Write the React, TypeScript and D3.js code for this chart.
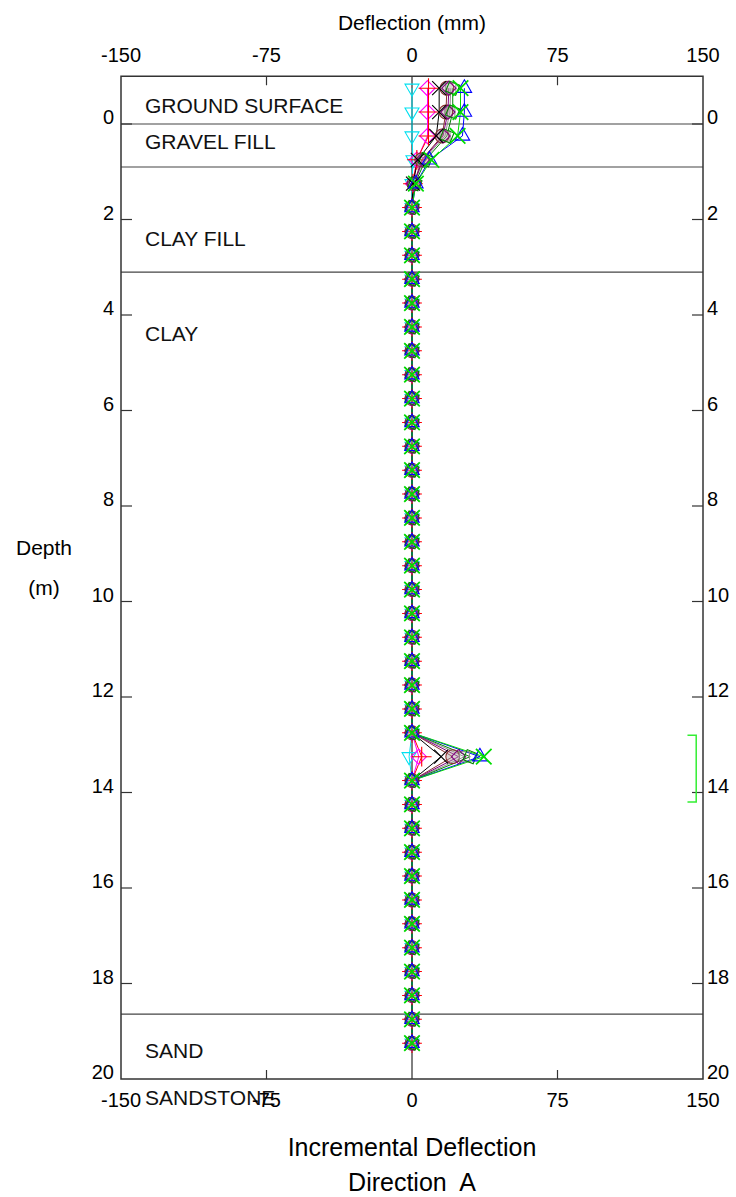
import React from "react";
import * as d3 from "d3";

// depths of the probe readings (m)
const depths = [-0.75, -0.25, 0.25, 0.75, 1.25, 1.75, 2.25, 2.75, 3.25, 3.75,
    4.25, 4.75, 5.25, 5.75, 6.25, 6.75, 7.25, 7.75, 8.25, 8.75,
    9.25, 9.75, 10.25, 10.75, 11.25, 11.75, 12.25, 12.75, 13.25, 13.75,
    14.25, 14.75, 15.25, 15.75, 16.25, 16.75, 17.25, 17.75, 18.25, 18.75,
    19.25];

// incremental deflection per reading (mm)
const cyanVals = [0, 0, 0, 0.5, 0, 0, 0, 0, 0, 0,
    0, 0, 0, 0, 0, 0, 0, 0, 0, 0,
    0, 0, 0, 0, 0, 0, 0, 0, -1.5, 0,
    0, 0, 0, 0, 0, 0, 0, 0, 0, 0,
    0];
const magentaVals = [8, 8, 8, 2.5, 0.5, 0, 0, 0, 0, 0,
    0, 0, 0, 0, 0, 0, 0, 0, 0, 0,
    0, 0, 0, 0, 0, 0, 0, 0, 3.5, 0,
    0, 0, 0, 0, 0, 0, 0, 0, 0, 0,
    0];
const redVals = [8.5, 8.5, 8.5, 2.5, 0.5, 0, 0, 0, 0, 0,
    0, 0, 0, 0, 0, 0, 0, 0, 0, 0,
    0, 0, 0, 0, 0, 0, 0, 0, 5, 0,
    0, 0, 0, 0, 0, 0, 0, 0, 0, 0,
    0];
const blackVals = [14, 14, 12.5, 3, 0.5, 0, 0, 0, 0, 0,
    0, 0, 0, 0, 0, 0, 0, 0, 0, 0,
    0, 0, 0, 0, 0, 0, 0, 0, 15, 0,
    0, 0, 0, 0, 0, 0, 0, 0, 0, 0,
    0];
const maroonVals = [18, 17.5, 15.5, 5, 1, 0, 0, 0, 0, 0,
    0, 0, 0, 0, 0, 0, 0, 0, 0, 0,
    0, 0, 0, 0, 0, 0, 0, 0, 21, 0,
    0, 0, 0, 0, 0, 0, 0, 0, 0, 0,
    0];
const grayVals = [20, 19.5, 17, 6, 1, 0, 0, 0, 0, 0,
    0, 0, 0, 0, 0, 0, 0, 0, 0, 0,
    0, 0, 0, 0, 0, 0, 0, 0, 27, 0,
    0, 0, 0, 0, 0, 0, 0, 0, 0, 0,
    0];
const purpleVals = [19, 18.5, 16, 5.5, 1, 0, 0, 0, 0, 0,
    0, 0, 0, 0, 0, 0, 0, 0, 0, 0,
    0, 0, 0, 0, 0, 0, 0, 0, 24, 0,
    0, 0, 0, 0, 0, 0, 0, 0, 0, 0,
    0];
const darkGreenVals = [21, 21, 18, 7, 1.5, 0, 0, 0, 0, 0,
    0, 0, 0, 0, 0, 0, 0, 0, 0, 0,
    0, 0, 0, 0, 0, 0, 0, 0, 30, 0,
    0, 0, 0, 0, 0, 0, 0, 0, 0, 0,
    0];
const blueVals = [27, 27, 26, 9, 2, 0, 0, 0, 0, 0,
    0, 0, 0, 0, 0, 0, 0, 0, 0, 0,
    0, 0, 0, 0, 0, 0, 0, 0, 35, 0,
    0, 0, 0, 0, 0, 0, 0, 0, 0, 0,
    0];
const greenVals = [25, 25, 23.5, 10, 2, 0, 0, 0, 0, 0,
    0, 0, 0, 0, 0, 0, 0, 0, 0, 0,
    0, 0, 0, 0, 0, 0, 0, 0, 37, 0,
    0, 0, 0, 0, 0, 0, 0, 0, 0, 0,
    0];

const xTicks = [-150, -75, 0, 75, 150];
const yTicks = [0, 2, 4, 6, 8, 10, 12, 14, 16, 18, 20];

// soil layers: boundaries and labels
const layerBounds = [0, 0.9, 3.1, 18.64];
const layerNames = ["GROUND SURFACE", "GRAVEL FILL", "CLAY FILL", "CLAY", "SAND", "SANDSTONE"];
const layerLabelDepths = [-0.38, 0.36, 2.39, 4.38, 19.4, 20.38];

// bracket on right side (zone of movement)
const zoneRange = [12.8, 14.2];

type Series = { vals: number[]; color: string; symbol: d3.SymbolType; size: number; rotate?: number; width?: number; fill?: string };

const series: Series[] = [
    { vals: cyanVals, color: "#00e0f0", symbol: d3.symbolTriangle2, size: 140, rotate: 180 },
    { vals: magentaVals, color: "#ff00ff", symbol: d3.symbolDiamond2, size: 150 },
    { vals: redVals, color: "#ff0000", symbol: d3.symbolPlus, size: 130 },
    { vals: maroonVals, color: "#8a3030", symbol: d3.symbolCircle, size: 150, fill: "#b0a0a0" },
    { vals: grayVals, color: "#909090", symbol: d3.symbolSquare2, size: 130 },
    { vals: purpleVals, color: "#800080", symbol: d3.symbolDiamond2, size: 130 },
    { vals: darkGreenVals, color: "#008000", symbol: d3.symbolSquare2, size: 150, rotate: 22.5 },
    { vals: blackVals, color: "#000000", symbol: d3.symbolTimes, size: 130 },
    { vals: blueVals, color: "#0000ff", symbol: d3.symbolTriangle2, size: 150 },
    { vals: greenVals, color: "#00dd00", symbol: d3.symbolTimes, size: 160, width: 1.7 },
];

const FONT = "'Liberation Sans', Arial, sans-serif";

export default function App() {
    const width = 736;
    const height = 1197;
    const x = d3.scaleLinear().domain([-150, 150]).range([121, 703]);
    const y = d3.scaleLinear().domain([-1, 20]).range([76.25, 1079]);
    const line = d3.line<number>()
        .x(v => x(v))
        .y((v, i) => y(depths[i]));

    return <div>
        <style>{`body{margin:0}`}</style>
        <svg width={width} height={height} style={{ display: "block", fontFamily: FONT }}>
            <rect x={0} y={0} width={width} height={height} fill="#fff" />

            {/* layer boundaries */}
            {layerBounds.map((d, i) =>
                <line key={"lb" + i} x1={x(-150)} x2={x(150)} y1={y(d)} y2={y(d)} stroke="#444" strokeWidth={1.2} />
            )}
            {layerNames.map((n, i) =>
                <text key={"ln" + i} x={145} y={y(layerLabelDepths[i])} dy="0.36em" fontSize={21} fill="#111">{n}</text>
            )}

            {/* zero line */}
            <line x1={x(0)} x2={x(0)} y1={y(-1)} y2={y(20)} stroke="#000" strokeWidth={1} />

            {/* series lines */}
            {series.map((s, i) =>
                <path key={"sl" + i} d={line(s.vals) ?? ""} fill="none" stroke={s.color} strokeWidth={1} />
            )}
            {/* series markers */}
            {series.map((s, i) => {
                const sym = d3.symbol().type(s.symbol).size(s.size)() ?? "";
                return <g key={"sm" + i}>
                    {s.vals.map((v, j) =>
                        <path key={j} d={sym}
                            transform={`translate(${x(v)},${y(depths[j])}) rotate(${s.rotate ?? 0})`}
                            fill={s.fill ?? "none"} fillOpacity={0.45} stroke={s.color} strokeWidth={s.width ?? 1.1} />
                    )}
                </g>;
            })}

            {/* frame */}
            <rect x={x(-150)} y={y(-1)} width={x(150) - x(-150)} height={y(20) - y(-1)}
                fill="none" stroke="#333" strokeWidth={1.5} />

            {/* x ticks */}
            {xTicks.filter(t => t !== 0 && Math.abs(t) !== 150).map(t =>
                <g key={"xt" + t}>
                    <line x1={x(t)} x2={x(t)} y1={y(-1)} y2={y(-1) + 9} stroke="#333" strokeWidth={1.2} />
                    <line x1={x(t)} x2={x(t)} y1={y(20)} y2={y(20) - 9} stroke="#333" strokeWidth={1.2} />
                </g>
            )}
            {xTicks.map(t =>
                <g key={"xl" + t}>
                    <text x={x(t)} y={55} dy="0.36em" textAnchor="middle" fontSize={20}>{t}</text>
                    <text x={x(t)} y={1100} dy="0.36em" textAnchor="middle" fontSize={20}>{t}</text>
                </g>
            )}

            {/* y ticks */}
            {yTicks.map(t =>
                <g key={"yt" + t}>
                    {t < 20 && <line x1={x(-150)} x2={x(-150) + 11} y1={y(t)} y2={y(t)} stroke="#333" strokeWidth={1.2} />}
                    {t < 20 && <line x1={x(150)} x2={x(150) - 11} y1={y(t)} y2={y(t)} stroke="#333" strokeWidth={1.2} />}
                    <text x={114} y={y(t) - 7} dy="0.36em" textAnchor="end" fontSize={20}>{t}</text>
                    <text x={707} y={y(t) - 7} dy="0.36em" textAnchor="start" fontSize={20}>{t}</text>
                </g>
            )}

            {/* zone bracket */}
            <path d={`M${x(142)},${y(zoneRange[0])}H${x(146.5)}V${y(zoneRange[1])}H${x(142)}`}
                fill="none" stroke="#33ee33" strokeWidth={1.5} />

            {/* titles */}
            <text x={412} y={22} dy="0.36em" textAnchor="middle" fontSize={21}>Deflection (mm)</text>
            <text x={44} y={547} dy="0.36em" textAnchor="middle" fontSize={21}>Depth</text>
            <text x={44} y={587} dy="0.36em" textAnchor="middle" fontSize={21}>(m)</text>
            <text x={412} y={1156} textAnchor="middle" fontSize={25}>Incremental Deflection</text>
            <text x={412} y={1191} textAnchor="middle" fontSize={25} style={{ whiteSpace: "pre" }}>Direction  A</text>
        </svg>
    </div>;
}
